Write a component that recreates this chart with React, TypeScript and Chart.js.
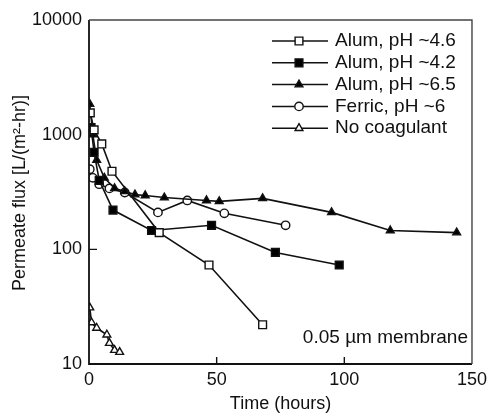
import { useEffect, useRef } from "react";
import { Chart, registerables } from "chart.js";
import { drawPoint } from "chart.js/helpers";

Chart.register(...registerables);

const FONT_FAMILY = "'Liberation Sans', Arial, Helvetica, sans-serif";

// Elapsed time (hours) and permeate flux, L/(m²·hr), for each coagulation run
const alum46Hours = [0.5, 2, 5, 9, 27.5, 47, 68];
const alum46Flux = [1550, 1100, 830, 480, 140, 73, 22];

const alum42Hours = [0.8, 2, 4, 9.4, 24.5, 48, 73, 98];
const alum42Flux = [1150, 700, 400, 220, 146, 162, 94, 73];

const alum65Hours = [0.3, 1.5, 3, 6, 10, 14, 18, 22, 29.5, 46, 51, 68, 95, 118, 144];
const alum65Flux = [1850, 1000, 600, 420, 340, 320, 300, 295, 283, 267, 262, 278, 210, 146, 140];

const ferricHours = [0.3, 1.5, 4, 8, 14, 27, 38.5, 53, 77];
const ferricFlux = [500, 420, 370, 340, 313, 210, 267, 206, 162];

const noCoagHours = [0.3, 1, 3, 7, 8, 10, 12];
const noCoagFlux = [31, 23, 20.6, 18, 15.2, 13.2, 12.7];

const seriesLabels = [
  "Alum, pH ~4.6",
  "Alum, pH ~4.2",
  "Alum, pH ~6.5",
  "Ferric, pH ~6",
  "No coagulant",
];

const xTickValues = [0, 50, 100, 150];
const yTickValues = [10, 100, 1000, 10000];
const xInnerTicks = [50, 100];
const yInnerTicks = [100, 1000];

const membraneNote = "0.05 \u00b5m membrane";
const xTitle = "Time (hours)";
const yTitle = "Permeate flux [L/(m\u00b2-hr)]";

const toPoints = (hours: number[], flux: number[]) =>
  hours.map((x, i) => ({ x, y: flux[i] }));

type MarkerStyle = { pointStyle: string; radius: number; fill: string };

const markers: MarkerStyle[] = [
  { pointStyle: "rect", radius: 5.5, fill: "#ffffff" },
  { pointStyle: "rect", radius: 5.5, fill: "#000000" },
  { pointStyle: "triangle", radius: 4.5, fill: "#000000" },
  { pointStyle: "circle", radius: 4.2, fill: "#ffffff" },
  { pointStyle: "triangle", radius: 4.5, fill: "#ffffff" },
];

const seriesData = [
  toPoints(alum46Hours, alum46Flux),
  toPoints(alum42Hours, alum42Flux),
  toPoints(alum65Hours, alum65Flux),
  toPoints(ferricHours, ferricFlux),
  toPoints(noCoagHours, noCoagFlux),
];

const ink = "#111111";

const decorations = {
  id: "decorations",
  afterDraw(chart: any) {
    const { ctx, chartArea } = chart;
    const xs = chart.scales.x;
    const ys = chart.scales.y;
    ctx.save();

    // plot frame: solid axes on the left and bottom, lighter edges top and right
    ctx.strokeStyle = ink;
    ctx.lineWidth = 1.8;
    ctx.beginPath();
    ctx.moveTo(chartArea.left, chartArea.top);
    ctx.lineTo(chartArea.left, chartArea.bottom);
    ctx.lineTo(chartArea.right, chartArea.bottom);
    ctx.stroke();
    ctx.strokeStyle = "#444444";
    ctx.lineWidth = 1.4;
    ctx.beginPath();
    ctx.moveTo(chartArea.left, chartArea.top);
    ctx.lineTo(chartArea.right, chartArea.top);
    ctx.lineTo(chartArea.right, chartArea.bottom);
    ctx.stroke();

    // inward tick marks
    ctx.strokeStyle = ink;
    ctx.lineWidth = 1.4;
    ctx.beginPath();
    for (const v of yInnerTicks) {
      const y = ys.getPixelForValue(v);
      ctx.moveTo(chartArea.left, y);
      ctx.lineTo(chartArea.left + 8, y);
    }
    for (const v of xInnerTicks) {
      const x = xs.getPixelForValue(v);
      ctx.moveTo(x, chartArea.bottom);
      ctx.lineTo(x, chartArea.bottom - 7);
    }
    ctx.stroke();

    // legend
    const legendLineStart = 272;
    const legendLineEnd = 328;
    const legendMarkerX = 299;
    const legendTextX = 335;
    const legendTop = 41;
    const legendStep = 21.8;
    ctx.font = `19px ${FONT_FAMILY}`;
    ctx.textBaseline = "middle";
    ctx.textAlign = "left";
    seriesLabels.forEach((label, i) => {
      const y = legendTop + i * legendStep;
      ctx.strokeStyle = ink;
      ctx.lineWidth = 1.5;
      ctx.beginPath();
      ctx.moveTo(legendLineStart, y);
      ctx.lineTo(legendLineEnd, y);
      ctx.stroke();
      const m = markers[i];
      ctx.fillStyle = m.fill;
      ctx.strokeStyle = ink;
      ctx.lineWidth = 1.4;
      drawPoint(ctx, { pointStyle: m.pointStyle as any, radius: m.radius, rotation: 0, borderWidth: 1.4 }, legendMarkerX, y);
      ctx.fillStyle = ink;
      ctx.fillText(label, legendTextX, y);
    });

    // membrane note
    ctx.fillStyle = ink;
    ctx.textAlign = "right";
    ctx.fillText(membraneNote, 468, 338);

    // axis titles
    ctx.font = `18px ${FONT_FAMILY}`;
    ctx.textAlign = "center";
    ctx.fillText(xTitle, (chartArea.left + chartArea.right) / 2, 404);
    ctx.save();
    ctx.translate(20, 193);
    ctx.rotate(-Math.PI / 2);
    ctx.fillText(yTitle, 0, 0);
    ctx.restore();

    ctx.restore();
  },
};

export default function App() {
  const canvasRef = useRef<HTMLCanvasElement | null>(null);

  useEffect(() => {
    if (!canvasRef.current) return;
    const chart = new Chart(canvasRef.current, {
      type: "line",
      data: {
        datasets: seriesData.map((data, i) => ({
          label: seriesLabels[i],
          data,
          borderColor: ink,
          borderWidth: 1.6,
          pointStyle: markers[i].pointStyle as any,
          pointRadius: markers[i].radius,
          pointBackgroundColor: markers[i].fill,
          pointBorderColor: ink,
          pointBorderWidth: 1.4,
          tension: 0,
          fill: false,
        })),
      },
      options: {
        responsive: false,
        animation: false,
        events: [],
        layout: { padding: { left: 0, right: 17, top: 20, bottom: 0 } },
        plugins: {
          legend: { display: false },
          tooltip: { enabled: false },
        },
        scales: {
          x: {
            type: "linear",
            min: 0,
            max: 150,
            grid: { display: false, drawTicks: false },
            border: { display: false },
            ticks: {
              color: ink,
              font: { family: FONT_FAMILY, size: 18 },
              padding: 5,
              maxRotation: 0,
              callback: (v: any) => String(v),
            },
            afterBuildTicks: (scale: any) => {
              scale.ticks = xTickValues.map((value) => ({ value }));
            },
            afterFit: (scale: any) => {
              scale.height = 50;
            },
          },
          y: {
            type: "logarithmic",
            min: 10,
            max: 10000,
            grid: { display: false, drawTicks: false },
            border: { display: false },
            ticks: {
              color: ink,
              font: { family: FONT_FAMILY, size: 18 },
              padding: 7,
              callback: (v: any) => String(v),
            },
            afterBuildTicks: (scale: any) => {
              scale.ticks = yTickValues.map((value) => ({ value }));
            },
            afterFit: (scale: any) => {
              scale.width = 89;
            },
          },
        },
      },
      plugins: [decorations],
    });
    return () => chart.destroy();
  }, []);

  return (
    <div style={{ position: "absolute", left: 0, top: 0, width: 492, height: 414, background: "#ffffff" }}>
      <canvas ref={canvasRef} width={492} height={414} />
    </div>
  );
}
